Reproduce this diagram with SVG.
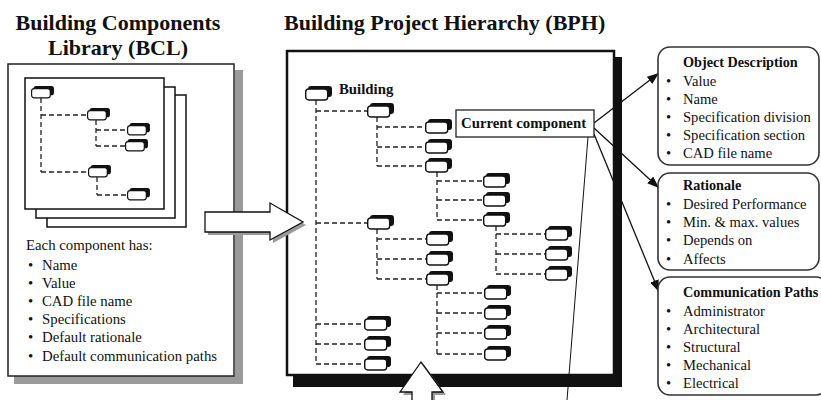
<svg xmlns="http://www.w3.org/2000/svg" xmlns:xlink="http://www.w3.org/1999/xlink" width="821" height="400" viewBox="0 0 821 400">
<style>
.t{font-family:"Liberation Serif","Times New Roman",serif;fill:#111}
.title{font-size:22px;font-weight:bold}
.b{font-weight:bold}
.s14{font-size:14.8px}
.s13{font-size:14.6px}
.s13b{font-size:14.2px;font-weight:bold}
.dash{fill:none;stroke:#222;stroke-width:1.3;stroke-dasharray:5 3}
.page{fill:#fff;stroke:#111;stroke-width:1.5}
.rbox{fill:#fff;stroke:#333;stroke-width:1.6}
.arr{fill:none;stroke:#111;stroke-width:1.3}
</style>
<defs>
<g id="ic"><rect x="3" y="0" width="24" height="11" rx="3" fill="#111"/><rect x="0.7" y="3" width="22" height="11" rx="3" fill="#fff" stroke="#111" stroke-width="1.4"/></g>
<marker id="ah" viewBox="0 0 12 9" refX="12" refY="4.5" markerWidth="12" markerHeight="9" markerUnits="userSpaceOnUse" orient="auto"><path d="M0,0 L12,4.5 L0,9 z" fill="#111"/></marker>
</defs>
<rect width="821" height="400" fill="#fff"/>

<!-- Titles -->
<text class="t title" x="118" y="30" text-anchor="middle">Building Components</text>
<text class="t title" x="118" y="55" text-anchor="middle">Library (BCL)</text>
<text class="t title" x="284" y="30">Building Project Hierarchy (BPH)</text>

<!-- BCL -->
<g id="bcl">
<rect x="235" y="70" width="8" height="314" fill="#9a9a9a"/>
<rect x="14" y="376" width="229" height="8" fill="#9a9a9a"/>
<rect x="8" y="64" width="226" height="312" fill="#fff" stroke="#222" stroke-width="1.5"/>
<rect class="page" x="47" y="95" width="139" height="132"/>
<rect class="page" x="36" y="87" width="139" height="131"/>
<rect class="page" x="25" y="78" width="139" height="131"/>
<g id="bcl-tree">
<path class="dash" d="M41,98V172M41,115H87M41,172H88M96,120V146M96,130H127M96,146H125M97,177V195M97,195H127"/>
<use xlink:href="#ic" transform="translate(31,86) scale(0.85)"/>
<use xlink:href="#ic" transform="translate(87,108) scale(0.85)"/>
<use xlink:href="#ic" transform="translate(88,165) scale(0.85)"/>
<use xlink:href="#ic" transform="translate(127,123) scale(0.85)"/>
<use xlink:href="#ic" transform="translate(125,139) scale(0.85)"/>
<use xlink:href="#ic" transform="translate(127,188) scale(0.85)"/>
</g>
<text class="t s14" x="26" y="250">Each component has:</text>
<g class="t s14">
<text x="28" y="270">•</text><text x="42" y="270">Name</text>
<text x="28" y="288">•</text><text x="42" y="288">Value</text>
<text x="28" y="306">•</text><text x="42" y="306">CAD file name</text>
<text x="28" y="324">•</text><text x="42" y="324">Specifications</text>
<text x="28" y="342">•</text><text x="42" y="342">Default rationale</text>
<text x="28" y="361">•</text><text x="42" y="361">Default communication paths</text>
</g>
</g>

<!-- BPH box -->
<g id="bph">
<rect x="614" y="57" width="8" height="330" fill="#111"/>
<rect x="293" y="376" width="329" height="11" fill="#111"/>
<rect x="287" y="51" width="327" height="324" fill="#fff" stroke="#111" stroke-width="2.5"/>
</g>

<!-- Connectors -->
<g id="connectors">
<path class="dash" d="M316,100V364M316,111H367M316,223H367M316,324H364M316,344H364M316,364H364
M377,117V166M377,127H425M377,147H425M377,166H425
M437,172V220M437,181H483M437,200H483M437,220H483
M496,226V274M496,234H545M496,254H545M496,274H545
M377,229V279M377,239H426M377,259H426M377,279H426
M437,285V354M437,293H484M437,313H484M437,333H484M437,354H484"/>
<line class="arr" x1="594" y1="123" x2="659" y2="73" marker-end="url(#ah)"/>
<line class="arr" x1="594" y1="128" x2="659" y2="188" marker-end="url(#ah)"/>
<line class="arr" x1="594" y1="134" x2="659" y2="292" marker-end="url(#ah)"/>
<line x1="588" y1="137" x2="567" y2="400" stroke="#111" stroke-width="1"/>
</g>

<!-- BPH tree nodes -->
<g id="bph-tree">
<g id="n-building"><use xlink:href="#ic" x="305" y="86"/><text class="t b s14" x="339" y="94">Building</text></g>
<use xlink:href="#ic" x="367" y="103"/>
<use xlink:href="#ic" x="367" y="215"/>
<use xlink:href="#ic" x="364" y="316"/>
<use xlink:href="#ic" x="364" y="336"/>
<use xlink:href="#ic" x="364" y="356"/>
<use xlink:href="#ic" x="425" y="119"/>
<use xlink:href="#ic" x="425" y="139"/>
<use xlink:href="#ic" x="425" y="158"/>
<use xlink:href="#ic" x="483" y="173"/>
<use xlink:href="#ic" x="483" y="192"/>
<use xlink:href="#ic" x="483" y="212"/>
<use xlink:href="#ic" x="545" y="226"/>
<use xlink:href="#ic" x="545" y="246"/>
<use xlink:href="#ic" x="545" y="266"/>
<use xlink:href="#ic" x="426" y="231"/>
<use xlink:href="#ic" x="426" y="251"/>
<use xlink:href="#ic" x="426" y="271"/>
<use xlink:href="#ic" x="484" y="285"/>
<use xlink:href="#ic" x="484" y="305"/>
<use xlink:href="#ic" x="484" y="325"/>
<use xlink:href="#ic" x="484" y="346"/>
</g>

<g id="current">
<rect x="456" y="110" width="138" height="27" fill="#fff" stroke="#222" stroke-width="1.3"/>
<text class="t b s14" x="461" y="128">Current component</text>
</g>

<!-- Big arrows -->
<g id="arrow-right">
<path d="M208,215H273V206L306,225L273,243V235H208Z" fill="#9a9a9a"/>
<path d="M205,212H270V203L303,222L270,240V232H205Z" fill="#fff" stroke="#111" stroke-width="1.3"/>
</g>
<g id="arrow-up">
<path d="M424,365L446,395H435V402H415V395H403Z" fill="#9a9a9a"/>
<path d="M421,362L443,392H432V402H412V392H400Z" fill="#fff" stroke="#111" stroke-width="1.3"/>
</g>

<!-- Right boxes -->
<g id="obj-desc">
<rect class="rbox" x="658" y="47" width="161" height="118" rx="12"/>
<text class="t s13b" x="683" y="67">Object Description</text>
<g class="t s13">
<text x="666" y="86">•</text><text x="683" y="86">Value</text>
<text x="666" y="104">•</text><text x="683" y="104">Name</text>
<text x="666" y="122">•</text><text x="683" y="122">Specification division</text>
<text x="666" y="140">•</text><text x="683" y="140">Specification section</text>
<text x="666" y="158">•</text><text x="683" y="158">CAD file name</text>
</g>
</g>
<g id="rationale">
<rect class="rbox" x="658" y="173" width="161" height="97" rx="12"/>
<text class="t s13b" x="683" y="190">Rationale</text>
<g class="t s13">
<text x="666" y="209">•</text><text x="683" y="209">Desired Performance</text>
<text x="666" y="227">•</text><text x="683" y="227">Min. &amp; max. values</text>
<text x="666" y="245">•</text><text x="683" y="245">Depends on</text>
<text x="666" y="264">•</text><text x="683" y="264">Affects</text>
</g>
</g>
<g id="comm">
<rect class="rbox" x="658" y="277" width="170" height="118" rx="12"/>
<text class="t s13b" x="683" y="297">Communication Paths</text>
<g class="t s13">
<text x="666" y="316">•</text><text x="683" y="316">Administrator</text>
<text x="666" y="334">•</text><text x="683" y="334">Architectural</text>
<text x="666" y="352">•</text><text x="683" y="352">Structural</text>
<text x="666" y="370">•</text><text x="683" y="370">Mechanical</text>
<text x="666" y="388">•</text><text x="683" y="388">Electrical</text>
</g>
</g>
</svg>
